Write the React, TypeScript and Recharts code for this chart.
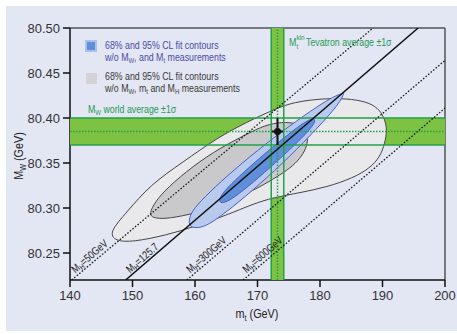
import React from 'react';
import { ComposedChart, XAxis, YAxis, Scatter, ReferenceLine, Curve } from 'recharts';

const mtRange = [140, 200];
const mwRange = [80.22, 80.5];
const mtTicks = [140, 150, 160, 170, 180, 190, 200];
const mwTicks = [80.25, 80.3, 80.35, 80.4, 80.45, 80.5];

// world average M_W and Tevatron m_t (-1 sigma, central, +1 sigma)
const mwAverage = [80.37, 80.385, 80.4];
const mtAverage = [172.2, 173.2, 174.2];

const measurement = [{ x: 173.2, y: 80.385, ex: 0.9, ey: 0.015 }];

// fit contours
const gray95 = [
  { x: 146.24, y: 80.273 }, { x: 149.12, y: 80.2956 }, { x: 152.8, y: 80.3256 },
  { x: 158.08, y: 80.3511 }, { x: 163.52, y: 80.3778 }, { x: 168.32, y: 80.3956 },
  { x: 172.48, y: 80.4089 }, { x: 175.68, y: 80.4178 }, { x: 181.12, y: 80.4222 },
  { x: 185.28, y: 80.4211 }, { x: 188.0, y: 80.4167 }, { x: 189.6, y: 80.4089 },
  { x: 190.4, y: 80.3978 }, { x: 190.72, y: 80.3867 }, { x: 190.4, y: 80.3722 },
  { x: 189.6, y: 80.3567 }, { x: 188.0, y: 80.3444 }, { x: 185.28, y: 80.3333 },
  { x: 181.12, y: 80.3233 }, { x: 176.8, y: 80.317 }, { x: 172.48, y: 80.3115 },
  { x: 169.28, y: 80.3045 }, { x: 165.12, y: 80.2922 }, { x: 159.68, y: 80.2789 },
  { x: 155.52, y: 80.27 }, { x: 150.08, y: 80.2622 }, { x: 147.2, y: 80.2633 },
];

const gray68 = [
  { x: 152.64, y: 80.2933 }, { x: 153.6, y: 80.3067 }, { x: 155.52, y: 80.3222 },
  { x: 159.68, y: 80.3467 }, { x: 164.0, y: 80.3667 }, { x: 168.32, y: 80.3822 },
  { x: 171.2, y: 80.3922 }, { x: 173.92, y: 80.3956 }, { x: 176.16, y: 80.3944 },
  { x: 177.44, y: 80.3889 }, { x: 178.08, y: 80.38 }, { x: 177.92, y: 80.3689 },
  { x: 177.12, y: 80.3578 }, { x: 175.68, y: 80.3467 }, { x: 173.6, y: 80.3367 },
  { x: 171.2, y: 80.3267 }, { x: 168.8, y: 80.3178 }, { x: 163.52, y: 80.3011 },
  { x: 158.88, y: 80.2922 }, { x: 155.2, y: 80.2878 }, { x: 153.28, y: 80.2889 },
];

const blue95 = [
  { x: 159.04, y: 80.2789 }, { x: 160.51, y: 80.2774 }, { x: 162.16, y: 80.2814 },
  { x: 164.83, y: 80.2944 }, { x: 169.12, y: 80.3188 }, { x: 173.95, y: 80.3491 },
  { x: 178.56, y: 80.3812 }, { x: 181.89, y: 80.4064 }, { x: 183.31, y: 80.4192 },
  { x: 183.84, y: 80.4278 }, { x: 183.84, y: 80.4278 }, { x: 182.58, y: 80.4251 },
  { x: 180.54, y: 80.4173 }, { x: 176.48, y: 80.3981 }, { x: 171.23, y: 80.371 },
  { x: 166.21, y: 80.3423 }, { x: 162.11, y: 80.3163 }, { x: 159.86, y: 80.2999 },
  { x: 159.04, y: 80.2892 },
];

const blue68 = [
  { x: 163.84, y: 80.3056 }, { x: 164.86, y: 80.306 }, { x: 166.3, y: 80.3118 },
  { x: 169.18, y: 80.3277 }, { x: 173.02, y: 80.351 }, { x: 176.75, y: 80.3752 },
  { x: 178.43, y: 80.3877 }, { x: 179.15, y: 80.3949 }, { x: 179.2, y: 80.3989 },
  { x: 178.64, y: 80.3991 }, { x: 177.5, y: 80.3952 }, { x: 175.5, y: 80.3852 },
  { x: 171.55, y: 80.3628 }, { x: 167.71, y: 80.3394 }, { x: 165.06, y: 80.3218 },
  { x: 164.03, y: 80.3127 },
];

// SM prediction for fixed M_H
const mh50 = [{ x: 140.27, y: 80.22 }, { x: 188.5, y: 80.5 }];
const mh125 = [{ x: 148.9, y: 80.22 }, { x: 195.7, y: 80.5 }];
const mh300 = [{ x: 158.7, y: 80.22 }, { x: 200, y: 80.464 }];
const mh600 = [{ x: 167.7, y: 80.22 }, { x: 200, y: 80.411 }];

const mhLabels = [
  { x: 140.85, y: 80.2244, text: '=50GeV' },
  { x: 149.6, y: 80.2244, text: '=125.7' },
  { x: 159.23, y: 80.2244, text: '=300GeV' },
  { x: 168.24, y: 80.2244, text: '=600GeV' },
];

// band rectangles, edges and error bars, built from the values above
const hLine = (y: number) => [{ x: mtRange[0], y }, { x: mtRange[1], y }];
const vLine = (x: number) => [{ x, y: mwRange[0] }, { x, y: mwRange[1] }];
const mwBandRect = [...hLine(mwAverage[0]), ...hLine(mwAverage[2]).reverse()];
const mtBandRect = [...vLine(mtAverage[0]), ...vLine(mtAverage[2]).reverse()];
const m = measurement[0];
const errX = [{ x: m.x - m.ex, y: m.y }, { x: m.x + m.ex, y: m.y }];
const errY = [{ x: m.x, y: m.y - m.ey }, { x: m.x, y: m.y + m.ey }];

const SANS = "'Liberation Sans', Arial, sans-serif";
const SQ = 0.8; // horizontal squeeze to mimic the narrow face

const BG = '#e3e6f3';
const BAND = '#7dc243';
const BAND_LINE = '#1fa24a';
const GREEN_TEXT = '#1f9b55';

type Piece = { pts: { x: number; y: number }[]; fill: string; stroke: string; width?: number; dash?: string; curve: any };

// drawn bottom to top
const pieces: Piece[] = [
  { pts: mwBandRect, fill: BAND, stroke: 'none', curve: 'linearClosed' },
  { pts: mtBandRect, fill: BAND, stroke: 'none', curve: 'linearClosed' },
  { pts: gray95, fill: '#e9e9eb', stroke: '#454545', width: 1, curve: 'basisClosed' },
  { pts: gray68, fill: '#c9c9cc', stroke: '#454545', width: 1, curve: 'basisClosed' },
  { pts: blue95, fill: '#b8cbef', stroke: '#4a5ec6', width: 1, curve: 'basisClosed' },
  { pts: blue68, fill: '#5f8fd9', stroke: '#4a5ec6', width: 1, curve: 'basisClosed' },
  { pts: hLine(mwAverage[0]), fill: 'none', stroke: BAND_LINE, width: 1.5, curve: 'linear' },
  { pts: hLine(mwAverage[2]), fill: 'none', stroke: BAND_LINE, width: 1.5, curve: 'linear' },
  { pts: hLine(mwAverage[1]), fill: 'none', stroke: BAND_LINE, width: 1.5, dash: '1.5 1.5', curve: 'linear' },
  { pts: vLine(mtAverage[0]), fill: 'none', stroke: BAND_LINE, width: 1.5, curve: 'linear' },
  { pts: vLine(mtAverage[2]), fill: 'none', stroke: BAND_LINE, width: 1.5, curve: 'linear' },
  { pts: vLine(mtAverage[1]), fill: 'none', stroke: BAND_LINE, width: 1.5, dash: '1.5 1.5', curve: 'linear' },
  { pts: mh50, fill: 'none', stroke: '#111', width: 1.3, dash: '1.5 1.8', curve: 'linear' },
  { pts: mh125, fill: 'none', stroke: '#111', width: 1.5, curve: 'linear' },
  { pts: mh300, fill: 'none', stroke: '#111', width: 1.3, dash: '1.5 1.8', curve: 'linear' },
  { pts: mh600, fill: 'none', stroke: '#111', width: 1.3, dash: '1.5 1.8', curve: 'linear' },
  { pts: errX, fill: 'none', stroke: '#111', width: 2, curve: 'linear' },
  { pts: errY, fill: 'none', stroke: '#111', width: 2, curve: 'linear' },
];

// one scatter keeps the stacking order fixed; symbols (point, labels) come last
const marks = [
  ...pieces.flatMap((p) => p.pts),
  ...measurement.map((d) => ({ x: d.x, y: d.y, dot: true })),
  ...mhLabels,
];

const drawPieces = (p: any) => {
  let at = 0;
  return (
    <g>
      {pieces.map((pc, k) => {
        const pts = p.points.slice(at, at + pc.pts.length);
        at += pc.pts.length;
        return (
          <Curve
            key={k}
            points={pts}
            type={pc.curve}
            fill={pc.fill}
            stroke={pc.stroke}
            strokeWidth={pc.width}
            strokeDasharray={pc.dash}
          />
        );
      })}
    </g>
  );
};

// rich text: strings are plain, {s: '..'} is a subscript
const rich = (parts: any[], subSize: number, d = 2) => {
  let low = false;
  return parts.map((part, i) => {
    if (typeof part === 'string') {
      const dy = low ? -d : 0;
      low = false;
      return <tspan key={i} dy={dy}>{part}</tspan>;
    }
    const dy = low ? 0 : d;
    low = true;
    return <tspan key={i} dy={dy} fontSize={subSize}>{part.s}</tspan>;
  });
};

const NText = ({ x, y, size = 11, fill, anchor, rotate, children }: any) => (
  <text
    transform={`translate(${x},${y})${rotate ? ` rotate(${rotate})` : ''} scale(${SQ},1)`}
    fontFamily={SANS}
    fontSize={size}
    fill={fill}
    textAnchor={anchor}
  >
    {children}
  </text>
);

const markShape = (p: any) => {
  if (p.payload.dot) return <circle cx={p.cx} cy={p.cy} r={3.5} fill="#111" />;
  if (p.payload.text)
    return (
      <g transform="translate(0,-2.5)">
        <NText x={p.cx} y={p.cy} rotate={-41} size={11} fill="#222">
          {rich(['M', { s: 'H' }, p.payload.text], 7.5)}
        </NText>
      </g>
    );
  return <g />;
};

const Annotations = () => (
  <svg width={457} height={334} style={{ position: 'absolute', left: 0, top: 0, pointerEvents: 'none' }}>
    <rect x={85} y={40} width={12} height={12} fill="#a9c1ec" />
    <rect x={87} y={42} width={8} height={8} fill="#5f8fd9" />
    <rect x={86} y={73} width={11} height={11} fill="#d3d3d5" />
    <NText x={105} y={49} fill="#4c4ca6">68% and 95% CL fit contours</NText>
    <NText x={105} y={60.5} fill="#4c4ca6">
      {rich(['w/o M', { s: 'W' }, ', and M', { s: 't' }, ' measurements'], 7.5)}
    </NText>
    <NText x={105} y={79.5} fill="#3a3a3a">68% and 95% CL fit contours</NText>
    <NText x={105} y={92} fill="#3a3a3a">
      {rich(['w/o M', { s: 'W' }, ', m', { s: 't' }, ' and M', { s: 'H' }, ' measurements'], 7.5)}
    </NText>
    <NText x={88} y={113} fill={GREEN_TEXT}>
      {rich(['M', { s: 'W' }, ' world average ±1σ'], 7.5)}
    </NText>
    <NText x={289} y={46} fill={GREEN_TEXT}>M</NText>
    <NText x={296.5} y={40} size={8} fill={GREEN_TEXT}>kin</NText>
    <NText x={296.5} y={49} size={8} fill={GREEN_TEXT}>t</NText>
    <NText x={306} y={46} fill={GREEN_TEXT}>Tevatron average ±1σ</NText>
    <NText x={23} y={156} size={13.5} rotate={-90} anchor="middle" fill="#222">
      {rich(['M', { s: 'W' }, ' (GeV)'], 9, 2.5)}
    </NText>
    <NText x={257} y={318} size={13.5} anchor="middle" fill="#222">
      {rich(['m', { s: 't' }, ' (GeV)'], 9, 2.5)}
    </NText>
  </svg>
);

export default function App() {
  return (
    <div style={{ position: 'fixed', left: 0, top: 0, width: 457, height: 334, background: '#fff', overflow: 'hidden' }}>
      <div style={{ position: 'absolute', left: 6, top: 6, width: 451, height: 325, background: BG }} />
      <div style={{ position: 'absolute', left: 0, top: 0 }}>
        <ComposedChart width={457} height={334} margin={{ top: 28, right: 12, bottom: 0, left: 0 }}>
          <XAxis
            dataKey="x"
            type="number"
            domain={mtRange}
            ticks={mtTicks}
            allowDataOverflow
            height={54}
            tickSize={7}
            tickMargin={4}
            stroke="#111"
            strokeWidth={1.5}
            tick={{ fontSize: 13, fill: '#333', fontFamily: SANS }}
          />
          <YAxis
            dataKey="y"
            type="number"
            domain={mwRange}
            ticks={mwTicks}
            allowDataOverflow
            width={70}
            tickSize={7}
            tickMargin={3}
            stroke="#111"
            strokeWidth={1.5}
            tickFormatter={(v: number) => v.toFixed(2)}
            tick={{ fontSize: 13, fill: '#333', fontFamily: SANS }}
          />

          <Scatter data={marks} shape={markShape} line={drawPieces} isAnimationActive={false} />

          <ReferenceLine y={mwRange[1]} stroke="#555" strokeWidth={1.5} />
          <ReferenceLine x={mtRange[1]} stroke="#555" strokeWidth={1.5} />
        </ComposedChart>
      </div>
      <Annotations />
    </div>
  );
}
